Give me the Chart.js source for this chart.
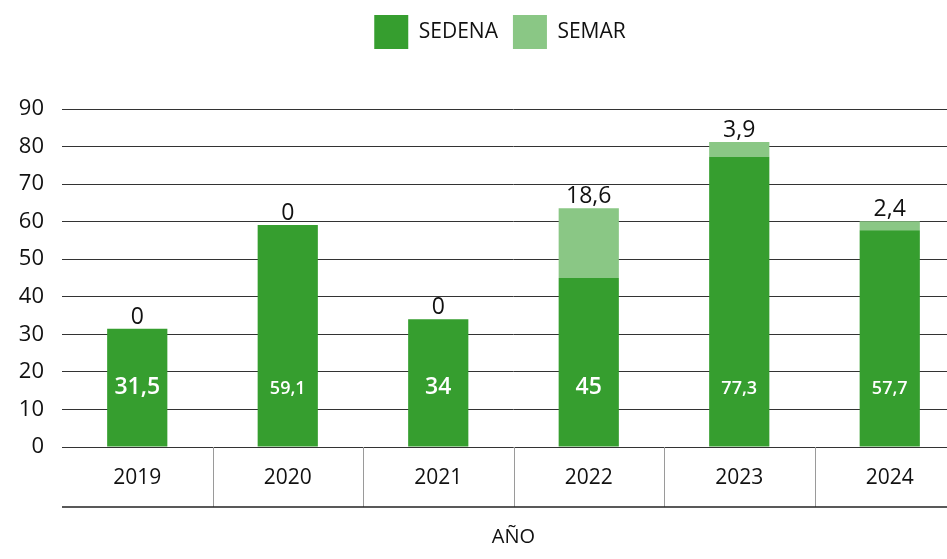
<!DOCTYPE html>
<html>
<head>
<meta charset="utf-8">
<script src="https://cdn.jsdelivr.net/npm/chart.js@4"></script>
<style>
  html, body { margin: 0; padding: 0; overflow: hidden; background: #fff; }
</style>
</head>
<body>
<canvas id="chart" width="1000" height="559"></canvas>
<script>
const years = ["2019", "2020", "2021", "2022", "2023", "2024"];
const sedena = [31.5, 59.1, 34, 45, 77.3, 57.7];
const semar = [0, 0, 0, 18.6, 3.9, 2.4];
const yMax = 90;
const yStep = 10;
const xTitle = "AÑO";

const FONT = '"Open Sans", "Noto Sans", sans-serif';
const fmt = (v) => String(v).replace(".", ",");

// which inner labels are drawn large
const bigInner = [true, false, true, true, false, false];

const labelPlugin = {
  id: "barLabels",
  afterDatasetsDraw(chart) {
    const ctx = chart.ctx;
    const x = chart.scales.x;
    const y = chart.scales.y;
    ctx.save();
    ctx.textAlign = "center";
    ctx.textBaseline = "alphabetic";
    years.forEach((yr, i) => {
      const cx = x.getPixelForValue(i);
      ctx.fillStyle = "#fff";
      ctx.font = bigInner[i] ? "600 23px " + FONT : "600 18px " + FONT;
      ctx.fillText(fmt(sedena[i]), cx, y.getPixelForValue(14));
      ctx.fillStyle = "#111";
      ctx.font = "400 23px " + FONT;
      ctx.fillText(fmt(semar[i]), cx, y.getPixelForValue(sedena[i] + semar[i]) - 5);
    });
    ctx.restore();
  },
};

// the little table under the bars
const tablePlugin = {
  id: "xTable",
  afterDraw(chart) {
    const ctx = chart.ctx;
    const x = chart.scales.x;
    const top = chart.chartArea.bottom;
    const bottom = top + 60;
    ctx.save();
    ctx.strokeStyle = "#9a9a9a";
    ctx.lineWidth = 1;
    for (let i = 0; i < years.length - 1; i++) {
      const bx = Math.round((x.getPixelForValue(i) + x.getPixelForValue(i + 1)) / 2) + 0.5;
      ctx.beginPath();
      ctx.moveTo(bx, top);
      ctx.lineTo(bx, bottom);
      ctx.stroke();
    }
    ctx.strokeStyle = "#222";
    ctx.lineWidth = 1.5;
    ctx.beginPath();
    ctx.moveTo(chart.chartArea.left, bottom);
    ctx.lineTo(chart.chartArea.right, bottom);
    ctx.stroke();
    ctx.restore();
  },
};

// legend takes the whole band above the plot
const legendHeight = {
  id: "legendHeight",
  beforeInit(chart) {
    const fit = chart.legend.fit;
    chart.legend.fit = function () {
      fit.bind(chart.legend)();
      this.height = 109;
    };
  },
};

new Chart(document.getElementById("chart"), {
  type: "bar",
  data: {
    labels: years,
    datasets: [
      { label: "SEDENA", data: sedena, backgroundColor: "#369e2f" },
      { label: "SEMAR", data: semar, backgroundColor: "#8ac785" },
    ],
  },
  options: {
    responsive: false,
    animation: false,
    layout: { padding: 0 },
    datasets: { bar: { barPercentage: 0.4, categoryPercentage: 1 } },
    plugins: {
      legend: {
        position: "top",
        labels: {
          boxWidth: 34,
          boxHeight: 34,
          padding: 15,
          color: "#111",
          font: { family: FONT, size: 21 },
        },
      },
      tooltip: { enabled: false },
    },
    scales: {
      x: {
        stacked: true,
        grid: { display: false },
        border: { display: false },
        ticks: { color: "#111", padding: 10, font: { family: FONT, size: 21 } },
        title: {
          display: true,
          text: xTitle,
          color: "#111",
          font: { family: FONT, size: 20 },
          padding: { top: 0, bottom: 10 },
        },
        afterFit: (s) => { s.height = 112; },
      },
      y: {
        stacked: true,
        min: 0,
        max: yMax,
        ticks: { stepSize: yStep, color: "#111", padding: 18, font: { family: FONT, size: 22 } },
        grid: { color: "#333", drawTicks: false },
        border: { display: false },
        afterFit: (s) => { s.width = 62; },
      },
      y2: {
        position: "right",
        min: 0,
        max: yMax,
        ticks: { display: false },
        grid: { drawOnChartArea: false, drawTicks: false },
        border: { display: false },
        afterFit: (s) => { s.width = 35; },
      },
    },
  },
  plugins: [labelPlugin, tablePlugin, legendHeight],
});
</script>
</body>
</html>
